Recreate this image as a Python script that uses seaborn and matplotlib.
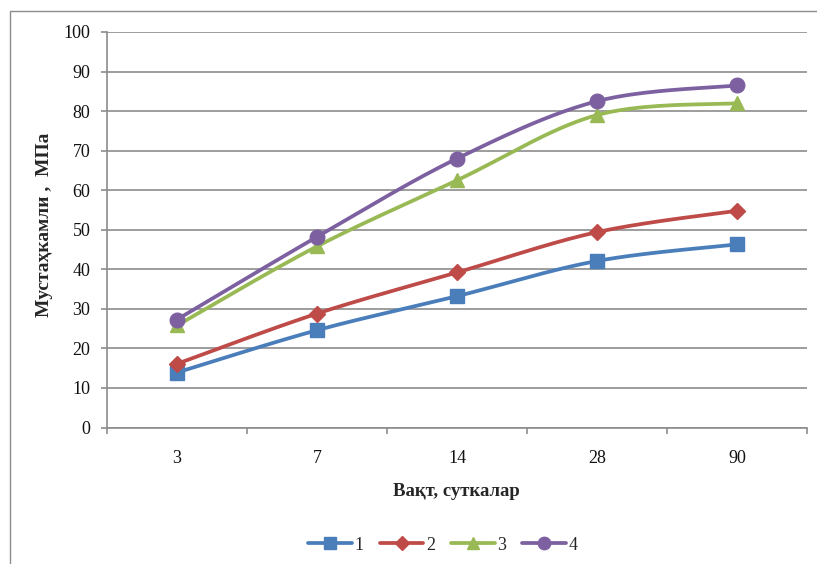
import numpy as np
import pandas as pd
import matplotlib
matplotlib.use("Agg")
import matplotlib.pyplot as plt
import seaborn as sns
from matplotlib.lines import Line2D
from matplotlib.patches import Rectangle

# ---- data ----
days = ["3", "7", "14", "28", "90"]
series_names = ["1", "2", "3", "4"]
s1 = [13.9, 24.6, 33.2, 42.1, 46.3]
s2 = [16.1, 28.8, 39.2, 49.4, 54.8]
s3 = [25.8, 45.8, 62.5, 79.0, 82.0]
s4 = [27.3, 48.2, 68.0, 82.5, 86.5]
y_ticks = [0, 10, 20, 30, 40, 50, 60, 70, 80, 90, 100]
x_label = "Вақт, суткалар"
y_label = "Мустаҳкамли ,  МПа"

colors = ["#4A7EBB", "#BE4B48", "#98B954", "#7D60A0"]
markers = ["s", "D", "^", "o"]
msizes = [10, 8.5, 10.5, 10.5]

sns.set_theme(style="white")
plt.rcParams["font.family"] = ["Liberation Serif", "DejaVu Serif"]


def smooth(xs, ys, n=40):
    """Catmull-Rom style smoothing (like Excel smoothed lines)."""
    P = np.column_stack([xs, ys]).astype(float)
    out = []
    m = len(P)
    for i in range(m - 1):
        p0 = P[i - 1] if i > 0 else P[i]
        p1 = P[i]
        p2 = P[i + 1]
        p3 = P[i + 2] if i + 2 < m else P[i + 1]
        c1 = p1 + (p2 - p0) / 6.0
        c2 = p2 - (p3 - p1) / 6.0
        t = np.linspace(0, 1, n)[:, None]
        seg = ((1 - t) ** 3) * p1 + 3 * ((1 - t) ** 2) * t * c1 + 3 * (1 - t) * t ** 2 * c2 + t ** 3 * p2
        out.append(seg if i == 0 else seg[1:])
    return np.vstack(out)


fig = plt.figure(figsize=(8.17, 5.64), dpi=100)
ax = fig.add_axes([107 / 817, 1 - 427.5 / 564, 700 / 817, 395.5 / 564])

xpos = np.arange(len(days))
rows = []
for name, vals in zip(series_names, [s1, s2, s3, s4]):
    curve = smooth(xpos, vals)
    for cx, cy in curve:
        rows.append({"x": cx, "y": cy, "series": name})
df_curve = pd.DataFrame(rows)
pts = pd.DataFrame({
    "x": np.tile(xpos, 4),
    "y": s1 + s2 + s3 + s4,
    "series": np.repeat(series_names, len(days)),
})

sns.lineplot(data=df_curve, x="x", y="y", hue="series", palette=colors, sort=False,
             estimator=None, linewidth=2.7, legend=False, ax=ax, zorder=3)
for name, c, mk, ms in zip(series_names, colors, markers, msizes):
    sub = pts[pts["series"] == name]
    ax.plot(sub["x"], sub["y"], linestyle="none", marker=mk, markersize=ms,
            color=c, markeredgecolor=c, zorder=4)

ax.set_xlim(-0.5, len(days) - 0.5)
ax.set_ylim(0, 100)
ax.set_yticks(y_ticks)
ax.set_xticks(xpos)
ax.set_xticklabels(days)
ax.set_xticks(np.arange(-0.5, len(days), 1.0), minor=True)
ax.grid(axis="y", color="#8c8c8c", linewidth=1.2)
ax.set_axisbelow(True)
for side in ["top", "right"]:
    ax.spines[side].set_visible(False)
for side in ["left", "bottom"]:
    ax.spines[side].set_color("#8c8c8c")
    ax.spines[side].set_linewidth(1.2)
ax.tick_params(axis="y", which="major", left=True, length=4, width=1.2, color="#8c8c8c",
               pad=8, labelsize=13, labelcolor="#111111")
ax.tick_params(axis="x", which="major", bottom=False, length=0, pad=16, labelsize=13,
               labelcolor="#111111")
ax.tick_params(axis="x", which="minor", bottom=True, length=4, width=1.2, color="#8c8c8c")

ax.set_xlabel("")
ax.set_ylabel("")
fig.text(456 / 817, 1 - 492 / 564, x_label, ha="center", va="center",
         fontsize=13.5, fontweight="bold")
fig.text(45 / 817, 1 - 225 / 564, y_label, ha="center", va="center",
         rotation=90, fontsize=14, fontweight="bold")

handles = [Line2D([0], [0], color=c, marker=mk, markersize=ms * 0.85, linewidth=2.7)
           for c, mk, ms in zip(colors, markers, msizes)]
fig.legend(handles, series_names, loc="center", bbox_to_anchor=(443 / 817, 1 - 545 / 564),
           ncol=4, frameon=False, fontsize=13, handlelength=2.4, handletextpad=0.15,
           columnspacing=0.9)

fig.add_artist(Rectangle((10 / 817, -0.1), 1.5, 1 - 11 / 564 + 0.1, transform=fig.transFigure,
                         fill=False, edgecolor="#8c8c8c", linewidth=1.0))

fig.savefig("out.png", dpi=100)
